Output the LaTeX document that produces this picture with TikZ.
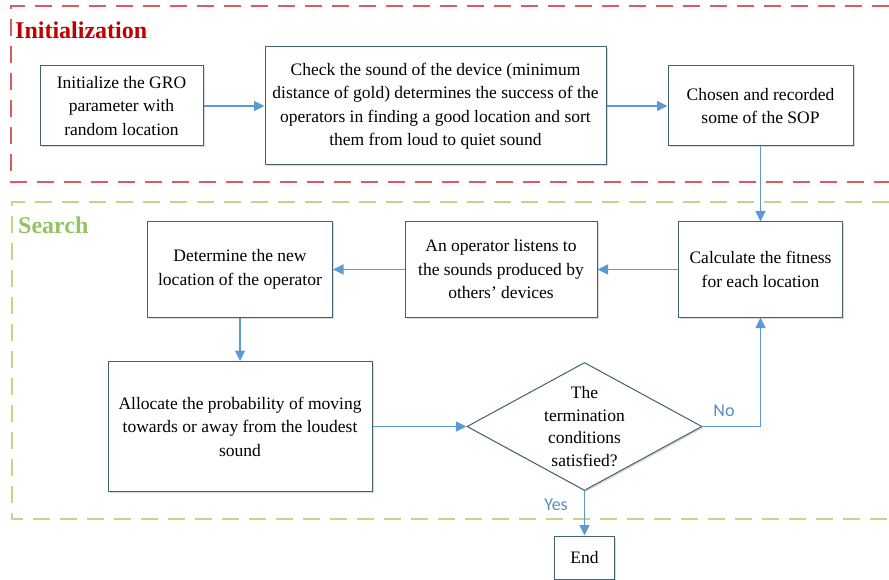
\documentclass[tikz,border=0pt]{standalone}
\usepackage{fontspec}
\setmainfont{Liberation Serif}
\newfontfamily\labelfont{Carlito}
\usetikzlibrary{shapes.geometric,shadows,arrows.meta}
\definecolor{arrowblue}{RGB}{91,155,213}
\definecolor{boxline}{RGB}{66,98,112}
\definecolor{initred}{RGB}{192,0,0}
\definecolor{dashred}{RGB}{218,92,92}
\definecolor{dashgreen}{RGB}{196,214,140}
\definecolor{searchgreen}{RGB}{146,196,96}
\definecolor{lblblue}{RGB}{88,140,190}
\begin{document}
\begin{tikzpicture}[x=1pt,y=-1pt,
  stepbox/.style={draw=boxline, line width=1pt, fill=white, align=center, inner sep=0pt,
    font=\fontsize{17.5}{23.5}\selectfont,
    drop shadow={opacity=0.3, shadow xshift=1.5pt, shadow yshift=-1.5pt}},
  decbox/.style={diamond, draw=boxline, line width=1pt, fill=white, inner sep=0pt,
    drop shadow={opacity=0.3, shadow xshift=1.5pt, shadow yshift=-1.5pt}},
  txt/.style={align=center, inner sep=0pt, font=\fontsize{17.5}{22.7}\selectfont},
  flow/.style={draw=arrowblue, line width=1.3pt, -{Triangle[length=10.5pt,width=10pt]}},
  lbl/.style={font=\labelfont\fontsize{18}{20}\selectfont, text=lblblue, inner sep=1pt},
  heading/.style={font=\bfseries\fontsize{24}{26}\selectfont, anchor=west, inner sep=0pt},
  redframe/.style={draw=dashred, line width=1.2pt, dash pattern=on 17pt off 10pt},
  greenframe/.style={draw=dashgreen, line width=1.2pt, dash pattern=on 17pt off 10pt}]
\useasboundingbox (0,0) rectangle (889,580);

% frames
\draw[redframe] (889,6) -- (11,6) -- (11,182) -- (889,182);
\draw[greenframe] (889,202) -- (12,202) -- (12,519) -- (889,519);
\node[heading, text=initred] (hinit) at (15,30) {Initialization};
\node[heading, text=searchgreen] (hsearch) at (18,225) {Search};

% boxes
\node[stepbox, minimum width=163pt, minimum height=80pt] (init) at (121.5,106)
  {Initialize the GRO\\parameter with\\random location};
\node[stepbox, minimum width=341pt, minimum height=118pt] (check) at (435.5,106)
  {Check the sound of the device (minimum\\distance of gold) determines the success of the\\operators in finding a good location and sort\\them from loud to quiet sound};
\node[stepbox, minimum width=185pt, minimum height=80pt] (chosen) at (760.5,106)
  {Chosen and recorded\\some of the SOP};
\node[stepbox, minimum width=164pt, minimum height=95pt] (fit) at (760.5,269.5)
  {Calculate the fitness\\for each location};
\node[stepbox, minimum width=192pt, minimum height=95pt] (listen) at (501,269.5)
  {An operator listens to\\the sounds produced by\\others' devices};
\node[stepbox, minimum width=185pt, minimum height=95pt] (newloc) at (240,269.5)
  {Determine the new\\location of the operator};
\node[stepbox, minimum width=264pt, minimum height=130pt] (alloc) at (240,426.5)
  {Allocate the probability of moving\\towards or away from the loudest\\sound};
\node[decbox, minimum width=235pt, minimum height=128pt] (dec) at (584.5,426.5) {};
\node[txt] (dectext) at (dec.center) {The\\termination\\conditions\\satisfied?};
\node[stepbox, minimum width=60pt, minimum height=43pt] (end) at (584.5,557.5) {End};

% connectors
\draw[flow] (init) -- (check);
\draw[flow] (check) -- (chosen);
\draw[flow] (chosen) -- (fit);
\draw[flow] (fit) -- (listen);
\draw[flow] (listen) -- (newloc);
\draw[flow] (newloc) -- (alloc);
\draw[flow] (alloc) -- (dec);
\draw[flow] (dec.east) -- (fit.south |- dec.east) -- (fit.south);
\draw[flow] (dec.south) -- (end.north);
\node[lbl] (nolbl) at (724,411) {No};
\node[lbl] (yeslbl) at (556,505) {Yes};
\end{tikzpicture}
\end{document}
